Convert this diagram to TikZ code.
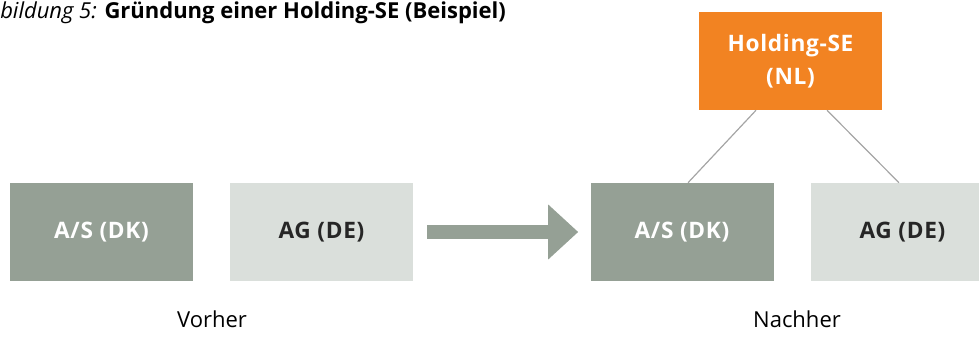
\documentclass[tikz,border=0pt]{standalone}
\usepackage{fontspec}
\setmainfont{Open Sans}
\usetikzlibrary{arrows.meta,calc}
\definecolor{dunkel}{HTML}{95A095}
\definecolor{hell}{HTML}{DADFDB}
\definecolor{orange}{HTML}{F28322}
\definecolor{linie}{HTML}{A5A5A5}
\tikzset{
  firma/.style={minimum width=137.25pt,minimum height=73.5pt,inner sep=0pt,
    font=\fontsize{17}{20}\selectfont\bfseries\addfontfeature{LetterSpace=3}},
  alt/.style={firma,fill=dunkel,text=white},
  neu/.style={firma,fill=hell,text=black!85},
}
\begin{document}
\begin{tikzpicture}[x=0.75pt,y=-0.75pt]
    \useasboundingbox (0,0) rectangle (979,349);
    \clip (0,0) rectangle (979,349);
    \draw
    (0,18.5) node[anchor=base west,inner sep=0pt,font=\fontsize{16.5}{18}\selectfont](titel)
        {\textit{bildung 5:} \textbf{Gründung einer Holding-SE (Beispiel)}}
    (101.5,232) node[alt](AS1){A/S (DK)}
    (321.5,232) node[neu](AG1){AG (DE)}
    (682,232) node[alt](AS2){A/S (DK)}
    (902.5,232) node[neu](AG2){AG (DE)}
    (790.5,61) node[firma,fill=orange,text=white,align=center,
        font=\fontsize{17}{25}\selectfont\bfseries\addfontfeature{LetterSpace=3}](SE){Holding-SE\\(NL)}
    (212,327) node[anchor=base,font=\fontsize{16.5}{18}\selectfont](vor){Vorher}
    (797,327) node[anchor=base,font=\fontsize{16.5}{18}\selectfont](nach){Nachher};
    \coordinate (SEl) at ($(SE.south)+(-34.5,0)$);
    \coordinate (SEr) at ($(SE.south)+(36.5,0)$);
    \coordinate (ASo) at ($(AS2.north)+(6,0)$);
    \coordinate (AGo) at ($(AG2.north)+(-3.5,0)$);
    \draw[linie,line width=0.9pt] (SEl) edge (ASo)
          (SEr) edge (AGo);
    \draw[dunkel,line width=10.5pt,shorten <=10.5pt,shorten >=9pt,
          -{Triangle[width=39.75pt,length=22.5pt]}] (AG1.east) -- (AS2.west);
  \end{tikzpicture}
\end{document}
